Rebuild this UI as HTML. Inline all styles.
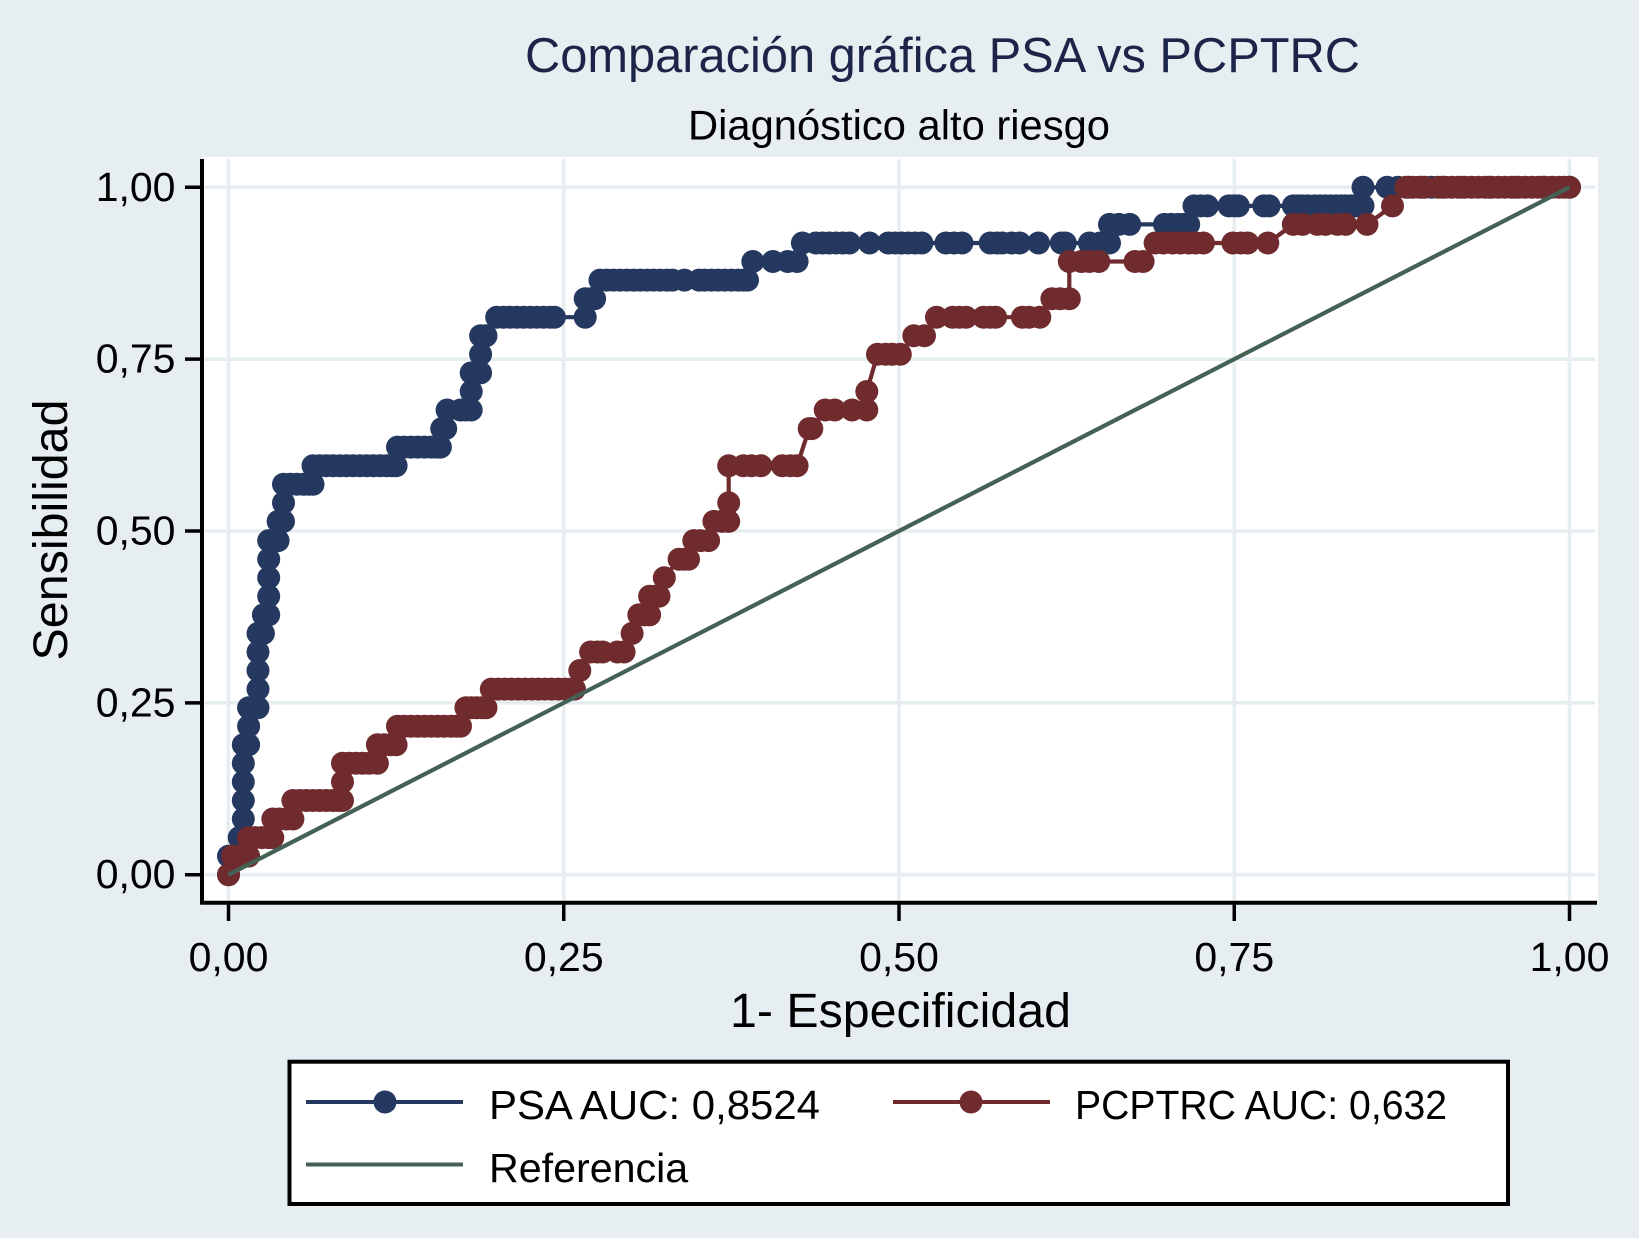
<!DOCTYPE html>
<html lang="es">
<head>
<meta charset="utf-8">
<title>Comparación gráfica PSA vs PCPTRC</title>
<style>
html,body{margin:0;padding:0;background:#e7eef1;}
svg{display:block;}
text{font-family:"Liberation Sans",Arial,sans-serif;fill:#000;}
</style>
</head>
<body>
<svg id="chart" xmlns="http://www.w3.org/2000/svg" width="1639" height="1238" viewBox="0 0 1639 1238">
  <rect x="0" y="0" width="1639" height="1238" fill="#e7eef1"/>
  <rect x="203" y="157" width="1395" height="745" fill="#ffffff"/>
  <g id="grid"></g>
  <g id="series"></g>
  <g id="axes"></g>
  <text x="942.5" y="72" font-size="48.7" text-anchor="middle" textLength="835" lengthAdjust="spacingAndGlyphs" style="fill:#1c2548">Comparación gráfica PSA vs PCPTRC</text>
  <text x="899" y="139.5" font-size="41.6" text-anchor="middle" textLength="422" lengthAdjust="spacingAndGlyphs">Diagnóstico alto riesgo</text>
  <text transform="translate(67,530) rotate(-90)" font-size="48.4" text-anchor="middle">Sensibilidad</text>
  <text x="900.5" y="1027" font-size="48.3" text-anchor="middle">1- Especificidad</text>
  <g>
    <rect x="289.5" y="1061.7" width="1218.5" height="142.3" fill="#ffffff" stroke="#000" stroke-width="4"/>
    <g>
      <line x1="306" y1="1102" x2="463" y2="1102" stroke="#25385f" stroke-width="4"/>
      <circle cx="385" cy="1102" r="11.5" fill="#25385f"/>
      <text x="489" y="1119" font-size="41.2" textLength="331" lengthAdjust="spacingAndGlyphs">PSA AUC: 0,8524</text>
    </g>
    <g>
      <line x1="893" y1="1102" x2="1050" y2="1102" stroke="#702b2f" stroke-width="4"/>
      <circle cx="971" cy="1102" r="11.5" fill="#702b2f"/>
      <text x="1075" y="1119" font-size="41.2" textLength="372" lengthAdjust="spacingAndGlyphs">PCPTRC AUC: 0,632</text>
    </g>
    <g>
      <line x1="306" y1="1164.5" x2="463" y2="1164.5" stroke="#456055" stroke-width="4"/>
      <text x="489" y="1182" font-size="41.2">Referencia</text>
    </g>
  </g>
</svg>
<script>
var xTicks = [0, 0.25, 0.5, 0.75, 1];
var yTicks = [0, 0.25, 0.5, 0.75, 1];
var xTickLabels = ["0,00", "0,25", "0,50", "0,75", "1,00"];
var yTickLabels = ["0,00", "0,25", "0,50", "0,75", "1,00"];

var psaSpec = [
  0, 0, 0.008, 0.011, 0.011, 0.011, 0.011,
  0.011, 0.013, 0.015,
  0.015,
  0.015, 0.018, 0.022,
  0.022, 0.022, 0.022,
  0.022, 0.026,
  0.026, 0.030,
  0.030, 0.030, 0.030,
  0.030, 0.034, 0.037,
  0.037, 0.041,
  0.041,
  0.041, 0.046, 0.051, 0.056, 0.060, 0.063,
  0.063, 0.068, 0.073, 0.078, 0.083, 0.088, 0.093, 0.098, 0.103, 0.108, 0.113, 0.118, 0.122, 0.125,
  0.126, 0.131, 0.136, 0.141, 0.146, 0.151, 0.155, 0.158,
  0.159, 0.162,
  0.163, 0.173, 0.177, 0.181,
  0.181,
  0.181, 0.185, 0.188,
  0.188,
  0.188, 0.192,
  0.200, 0.205, 0.210, 0.215, 0.220, 0.225, 0.230, 0.235, 0.240, 0.243, 0.266,
  0.266, 0.270, 0.273,
  0.277, 0.282, 0.287, 0.292, 0.297, 0.302, 0.307, 0.312, 0.317, 0.322, 0.327, 0.331, 0.340, 0.351, 0.355, 0.360, 0.365, 0.370, 0.375, 0.380, 0.384, 0.387,
  0.391, 0.406, 0.417, 0.424,
  0.428, 0.438, 0.443, 0.448, 0.453, 0.458, 0.463, 0.478, 0.492, 0.497, 0.502, 0.507, 0.512, 0.517, 0.535, 0.541, 0.547, 0.568, 0.573, 0.577, 0.584, 0.590, 0.604, 0.621, 0.624, 0.642, 0.650, 0.657,
  0.657, 0.664, 0.672, 0.698, 0.703, 0.708, 0.712, 0.716,
  0.720, 0.725, 0.730, 0.746, 0.750, 0.753, 0.772, 0.776, 0.794, 0.798, 0.801, 0.805, 0.810, 0.814, 0.818, 0.822, 0.826, 0.830, 0.833, 0.837, 0.840, 0.843, 0.846,
  0.846, 0.864, 0.872, 0.880, 0.890, 0.897, 0.905, 0.920, 0.940, 0.960, 0.980, 1
];
var psaSens = [
  0, 0.027, 0.054, 0.081, 0.108, 0.135, 0.162,
  0.189, 0.189, 0.189,
  0.216,
  0.243, 0.243, 0.243,
  0.270, 0.297, 0.324,
  0.351, 0.351,
  0.378, 0.378,
  0.405, 0.432, 0.459,
  0.486, 0.486, 0.486,
  0.514, 0.514,
  0.541,
  0.568, 0.568, 0.568, 0.568, 0.568, 0.568,
  0.595, 0.595, 0.595, 0.595, 0.595, 0.595, 0.595, 0.595, 0.595, 0.595, 0.595, 0.595, 0.595, 0.595,
  0.622, 0.622, 0.622, 0.622, 0.622, 0.622, 0.622, 0.622,
  0.649, 0.649,
  0.676, 0.676, 0.676, 0.676,
  0.703,
  0.730, 0.730, 0.730,
  0.757,
  0.784, 0.784,
  0.811, 0.811, 0.811, 0.811, 0.811, 0.811, 0.811, 0.811, 0.811, 0.811, 0.811,
  0.838, 0.838, 0.838,
  0.865, 0.865, 0.865, 0.865, 0.865, 0.865, 0.865, 0.865, 0.865, 0.865, 0.865, 0.865, 0.865, 0.865, 0.865, 0.865, 0.865, 0.865, 0.865, 0.865, 0.865, 0.865,
  0.892, 0.892, 0.892, 0.892,
  0.919, 0.919, 0.919, 0.919, 0.919, 0.919, 0.919, 0.919, 0.919, 0.919, 0.919, 0.919, 0.919, 0.919, 0.919, 0.919, 0.919, 0.919, 0.919, 0.919, 0.919, 0.919, 0.919, 0.919, 0.919, 0.919, 0.919, 0.919,
  0.946, 0.946, 0.946, 0.946, 0.946, 0.946, 0.946, 0.946,
  0.973, 0.973, 0.973, 0.973, 0.973, 0.973, 0.973, 0.973, 0.973, 0.973, 0.973, 0.973, 0.973, 0.973, 0.973, 0.973, 0.973, 0.973, 0.973, 0.973, 0.973, 0.973, 0.973,
  1, 1, 1, 1, 1, 1, 1, 1, 1, 1, 1, 1
];

var pcptrcSpec = [
  0,
  0.003, 0.008, 0.012, 0.015,
  0.015, 0.020, 0.025, 0.030, 0.033,
  0.033, 0.038, 0.043, 0.048,
  0.048, 0.053, 0.058, 0.063, 0.068, 0.073, 0.078, 0.082, 0.085,
  0.085,
  0.085, 0.090, 0.095, 0.100, 0.105, 0.111,
  0.111, 0.116, 0.121, 0.125,
  0.126, 0.131, 0.136, 0.141, 0.146, 0.151, 0.156, 0.161, 0.166, 0.170, 0.173,
  0.177, 0.181, 0.185, 0.189, 0.192,
  0.196, 0.201, 0.206, 0.211, 0.216, 0.221, 0.226, 0.231, 0.236, 0.241, 0.246, 0.251, 0.255, 0.258,
  0.262,
  0.270, 0.275, 0.279, 0.290, 0.295,
  0.301,
  0.306, 0.310, 0.314,
  0.314, 0.318, 0.321,
  0.325,
  0.336, 0.340, 0.343,
  0.347, 0.352, 0.358,
  0.362, 0.368, 0.373,
  0.373,
  0.373, 0.384, 0.390, 0.397, 0.413, 0.419, 0.424,
  0.433, 0.435,
  0.445, 0.452, 0.465, 0.476,
  0.476,
  0.484, 0.490, 0.495, 0.501,
  0.511, 0.519,
  0.528, 0.540, 0.545, 0.550, 0.563, 0.568, 0.572, 0.592, 0.597, 0.605,
  0.614, 0.620, 0.627,
  0.627, 0.636, 0.642, 0.649, 0.676, 0.682,
  0.691, 0.697, 0.704, 0.710, 0.716, 0.721, 0.727, 0.749, 0.755, 0.760, 0.775,
  0.794, 0.801, 0.812, 0.818, 0.827, 0.833, 0.849,
  0.868,
  0.878, 0.883, 0.888, 0.892, 0.902, 0.907, 0.912, 0.917, 0.922, 0.927, 0.932, 0.937, 0.942, 0.947, 0.952, 0.957, 0.962, 0.967, 0.972, 0.977, 0.982, 0.987, 0.992, 0.996, 1
];
var pcptrcSens = [
  0,
  0.027, 0.027, 0.027, 0.027,
  0.054, 0.054, 0.054, 0.054, 0.054,
  0.081, 0.081, 0.081, 0.081,
  0.108, 0.108, 0.108, 0.108, 0.108, 0.108, 0.108, 0.108, 0.108,
  0.135,
  0.162, 0.162, 0.162, 0.162, 0.162, 0.162,
  0.189, 0.189, 0.189, 0.189,
  0.216, 0.216, 0.216, 0.216, 0.216, 0.216, 0.216, 0.216, 0.216, 0.216, 0.216,
  0.243, 0.243, 0.243, 0.243, 0.243,
  0.270, 0.270, 0.270, 0.270, 0.270, 0.270, 0.270, 0.270, 0.270, 0.270, 0.270, 0.270, 0.270, 0.270,
  0.297,
  0.324, 0.324, 0.324, 0.324, 0.324,
  0.351,
  0.378, 0.378, 0.378,
  0.405, 0.405, 0.405,
  0.432,
  0.459, 0.459, 0.459,
  0.486, 0.486, 0.486,
  0.514, 0.514, 0.514,
  0.541,
  0.595, 0.595, 0.595, 0.595, 0.595, 0.595, 0.595,
  0.649, 0.649,
  0.676, 0.676, 0.676, 0.676,
  0.703,
  0.757, 0.757, 0.757, 0.757,
  0.784, 0.784,
  0.811, 0.811, 0.811, 0.811, 0.811, 0.811, 0.811, 0.811, 0.811, 0.811,
  0.838, 0.838, 0.838,
  0.892, 0.892, 0.892, 0.892, 0.892, 0.892,
  0.919, 0.919, 0.919, 0.919, 0.919, 0.919, 0.919, 0.919, 0.919, 0.919, 0.919,
  0.946, 0.946, 0.946, 0.946, 0.946, 0.946, 0.946,
  0.973,
  1, 1, 1, 1, 1, 1, 1, 1, 1, 1, 1, 1, 1, 1, 1, 1, 1, 1, 1, 1, 1, 1, 1, 1, 1
];

var referenceSpec = [0, 1];
var referenceSens = [0, 1];

var NS = "http://www.w3.org/2000/svg";
function xPos(v) { return 228.5 + v * 1341; }
function yPos(v) { return 874.7 - v * 687.4; }

function makeLine(parent, x1, y1, x2, y2, color, width) {
  var l = document.createElementNS(NS, "line");
  l.setAttribute("x1", x1);
  l.setAttribute("y1", y1);
  l.setAttribute("x2", x2);
  l.setAttribute("y2", y2);
  l.setAttribute("stroke", color);
  l.setAttribute("stroke-width", width);
  parent.appendChild(l);
  return l;
}
function makeText(parent, x, y, str, anchor) {
  var t = document.createElementNS(NS, "text");
  t.setAttribute("x", x);
  t.setAttribute("y", y);
  t.setAttribute("font-size", "41");
  t.setAttribute("text-anchor", anchor);
  t.textContent = str;
  parent.appendChild(t);
  return t;
}
function drawSeries(parent, xs, ys, color, lineWidth, radius, key) {
  var group = document.createElementNS(NS, "g");
  
  
  var pts = [];
  for (var i = 0; i < xs.length; i++) {
    pts.push(xPos(xs[i]).toFixed(1) + "," + yPos(ys[i]).toFixed(1));
  }
  var path = document.createElementNS(NS, "polyline");
  
  
  path.setAttribute("points", pts.join(" "));
  path.setAttribute("fill", "none");
  path.setAttribute("stroke", color);
  path.setAttribute("stroke-width", lineWidth);
  group.appendChild(path);
  if (radius > 0) {
    for (var j = 0; j < xs.length; j++) {
      var c = document.createElementNS(NS, "circle");
      
      
      c.setAttribute("cx", xPos(xs[j]).toFixed(1));
      c.setAttribute("cy", yPos(ys[j]).toFixed(1));
      c.setAttribute("r", radius);
      c.setAttribute("fill", color);
      group.appendChild(c);
    }
  }
  parent.appendChild(group);
}

var gridGroup = document.getElementById("grid");
var axesGroup = document.getElementById("axes");
var seriesGroup = document.getElementById("series");
var gridColor = "#e7eef1";

for (var a = 0; a < yTicks.length; a++) {
  var yy = yPos(yTicks[a]);
  var gh = makeLine(gridGroup, 204, yy, 1595, yy, gridColor, 3.6);
  
  
  var ty = makeLine(axesGroup, 185, yy, 203, yy, "#000", 3.5);
  
  
  var ly = makeText(axesGroup, 175.5, yy + 13.5, yTickLabels[a], "end");
  
  
}
for (var b = 0; b < xTicks.length; b++) {
  var xx = xPos(xTicks[b]);
  var gv = makeLine(gridGroup, xx, 159, xx, 901, gridColor, 3.6);
  
  
  var tx = makeLine(axesGroup, xx, 902, xx, 921, "#000", 3.5);
  
  
  var lx = makeText(axesGroup, xx, 971, xTickLabels[b], "middle");
  
  
}
var yAxisLine = makeLine(axesGroup, 202, 159, 202, 904.5, "#000", 4);


var xAxisLine = makeLine(axesGroup, 200.5, 902.7, 1597, 902.7, "#000", 4);



drawSeries(seriesGroup, psaSpec, psaSens, "#25385f", 4.2, 11.5, "psa");
drawSeries(seriesGroup, pcptrcSpec, pcptrcSens, "#702b2f", 4.2, 11.5, "pcptrc");
drawSeries(seriesGroup, referenceSpec, referenceSens, "#456055", 4.2, 0, "referencia");
</script>
</body>
</html>
